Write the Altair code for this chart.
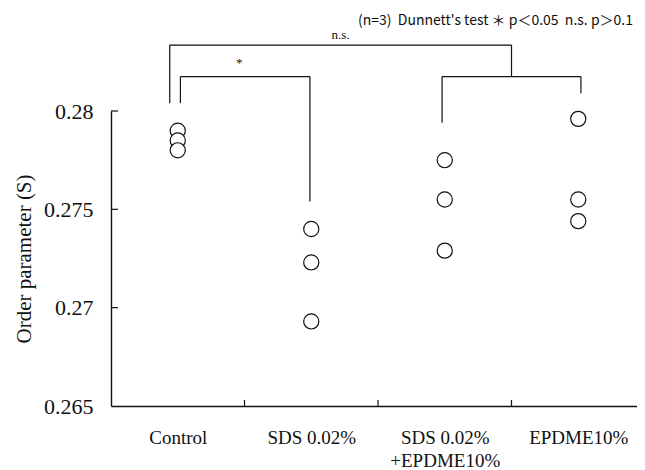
import altair as alt
import pandas as pd

# ---- data ----
categories = ["Control", "SDS 0.02%", "SDS 0.02%|+EPDME10%", "EPDME10%"]
control = [0.2790, 0.2785, 0.2780]
sds = [0.2740, 0.2723, 0.2693]
sds_epdme = [0.2775, 0.2755, 0.2729]
epdme = [0.2796, 0.2755, 0.2744]
y_ticks = [0.265, 0.27, 0.275, 0.28]

# bracket segments in (category-position, order-parameter) units
seg_x = [0.44, 0.44, 3.00, 0.52, 0.52, 1.49, 2.48, 2.48, 3.52]
seg_x2 = [3.00, 0.44, 3.00, 1.49, 0.52, 1.49, 3.52, 2.48, 3.52]
seg_y = [0.28335, 0.28335, 0.28335, 0.28175, 0.28175, 0.28175, 0.28175, 0.28175, 0.28175]
seg_y2 = [0.28335, 0.2804, 0.28175, 0.28175, 0.2804, 0.2754, 0.28175, 0.2794, 0.2809]

band_edges = [1, 2, 3]

notes_x = [1.72, 0.96]
notes_y = [0.28364, 0.28222]
notes_txt = ["n.s.", "*"]

NB = "\u00a0"
legend_text = f"(n=3){NB}{NB}Dunnett's test ＊ p＜0.05{NB}{NB}n.s. p＞0.1"

W, H = 526, 295
SERIF = "Liberation Serif"

rows = []
for i, (cat, vals) in enumerate(zip(categories, [control, sds, sds_epdme, epdme])):
    for v in vals:
        rows.append({"pos": i + 0.5, "group": cat, "S": v})
pts = pd.DataFrame(rows)

segs = pd.DataFrame({"pos": seg_x, "x2": seg_x2, "S": seg_y, "y2": seg_y2})
edges = pd.DataFrame({"pos": band_edges})
yt = pd.DataFrame({"S": y_ticks[1:]})
notes = pd.DataFrame({"pos": notes_x, "S": notes_y, "t": notes_txt})
leg = pd.DataFrame({"pos": [3.91], "S": [0.28458], "t": [legend_text]})

yscale = alt.Scale(domain=[0.265, 0.28], nice=False, zero=False)
# the last band runs past the right edge of the picture, as in the original
xscale = alt.Scale(domain=[0, 3.94], nice=False, zero=False)

cat_js = "[" + ",".join("'" + c + "'" for c in categories) + "]"
xaxis = alt.Axis(title=None, values=[0.5, 1.5, 2.5, 3.5], labelAngle=0, ticks=False, grid=False,
                 domainColor="#111", domainWidth=1.4, labelFont=SERIF, labelFontSize=19,
                 labelColor="#111", labelPadding=22, labelLineHeight=23,
                 labelExpr=f"split({cat_js}[floor(datum.value)], '|')")
yaxis = alt.Axis(title="Order parameter (S)", values=y_ticks, format=".3~f", ticks=False,
                 grid=False, domainColor="#111", domainWidth=1.4,
                 labelFont=SERIF, labelFontSize=22, labelColor="#111", labelPadding=18,
                 titleFont=SERIF, titleFontSize=21, titleFontWeight="normal",
                 titleColor="#111", titlePadding=9)

X = alt.X("pos:Q", scale=xscale, axis=xaxis)
Y = alt.Y("S:Q", scale=yscale, axis=yaxis)

points = alt.Chart(pts).mark_point(
    shape="circle", filled=False, size=230, stroke="#111", strokeWidth=1.2,
    fill="white", fillOpacity=1, opacity=1
).encode(x=X, y=Y)

brackets = alt.Chart(segs).mark_rule(color="#111", strokeWidth=1.2).encode(
    x=X, x2="x2:Q", y=Y, y2="y2:Q",
)

xticks = alt.Chart(edges).mark_rule(color="#111", strokeWidth=1.2).encode(
    x=X, y=alt.value(H), y2=alt.value(H - 6),
)

yticks = alt.Chart(yt).mark_rule(color="#111", strokeWidth=1.2).encode(
    y=Y, x=alt.value(0), x2=alt.value(7),
)

note_marks = alt.Chart(notes).mark_text(font=SERIF, fontSize=13, color="#111",
                                        baseline="alphabetic").encode(
    x=X, y=Y, text="t:N",
)

legend_mark = alt.Chart(leg).mark_text(font="Noto Sans CJK JP", fontSize=14, color="#111",
                                       align="right", baseline="middle").encode(
    x=X, y=Y, text="t:N",
)

chart = alt.layer(points, brackets, xticks, yticks, note_marks, legend_mark).properties(
    width=W, height=H,
    autosize=alt.AutoSizeParams(type="none"),
    padding={"left": 103, "top": 103, "right": 0, "bottom": 64},
).configure(
    background="white",
    view=alt.ViewConfig(stroke="transparent", strokeWidth=0),
)

chart.save("out.html", embed_options={"renderer": "svg", "actions": False})
